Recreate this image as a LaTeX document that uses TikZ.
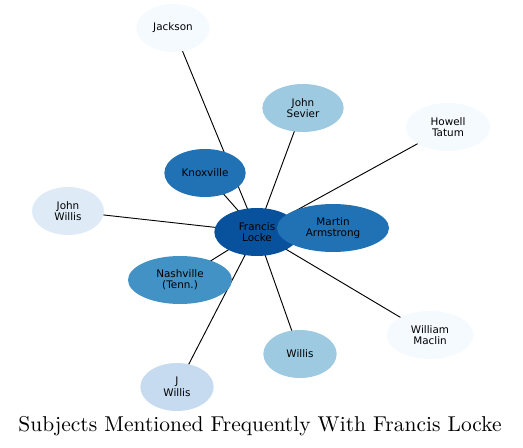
\documentclass[tikz,border=0pt]{standalone}
\usepackage{fontspec}
\newfontfamily\subjfont{DejaVu Sans}
\newfontfamily\titlefont{lmroman10-regular.otf}
\usetikzlibrary{shapes.geometric,backgrounds}
\definecolor{blA}{RGB}{8,81,156}
\definecolor{blB}{RGB}{33,113,181}
\definecolor{blC}{RGB}{66,146,198}
\definecolor{blD}{RGB}{158,202,225}
\definecolor{blE}{RGB}{198,219,239}
\definecolor{blF}{RGB}{222,235,247}
\definecolor{blG}{RGB}{245,250,255}
\tikzset{
 subj node/.style={ellipse,inner sep=0pt,outer sep=0pt,minimum height=36pt,
                   align=center,text=black,
                   font=\subjfont\fontsize{7.8}{8.6}\selectfont},
 subj edge/.style={line width=.7pt,black},
 subj title/.style={font=\titlefont\fontsize{16.1}{18}\selectfont,anchor=base}
}
\begin{document}
\begin{tikzpicture}[x=.75pt,y=-.75pt]
 \useasboundingbox (0,0) rectangle (523,448);
 % centre first, the others around it
 \node[subj node,fill=blA,minimum width=64pt] (fl) at (257,232) {Francis\\Locke};
 \foreach \v/\x/\y/\w/\c/\t in {
   jk/173/28/55/blG/{Jackson},
   js/303/108/61/blD/{John\\Sevier},
   ht/448/127/63/blG/{Howell\\Tatum},
   kx/205/173/61/blB/{Knoxville},
   jw/68/211/54/blF/{John\\Willis},
   ma/333/228/84/blB/{Martin\\Armstrong},
   nv/180/280/78/blC/{Nashville\\(Tenn.)},
   wi/300/354/55/blD/{Willis},
   wm/430/335/65/blG/{William\\Maclin},
   jj/177/387/55/blE/{J\\Willis}}{
   \node[subj node,fill=\c,minimum width=\w pt] (\v) at (\x,\y) {\t};
 }
 \begin{scope}[on background layer]
  \foreach \v in {jk,js,ht,kx,jw,ma,nv,wi,wm,jj}{
    \draw[subj edge] (fl.center)--(\v.center);
  }
 \end{scope}
 \node[subj title] (title) at (260,431) {Subjects Mentioned Frequently With Francis Locke};
\end{tikzpicture}
\end{document}
